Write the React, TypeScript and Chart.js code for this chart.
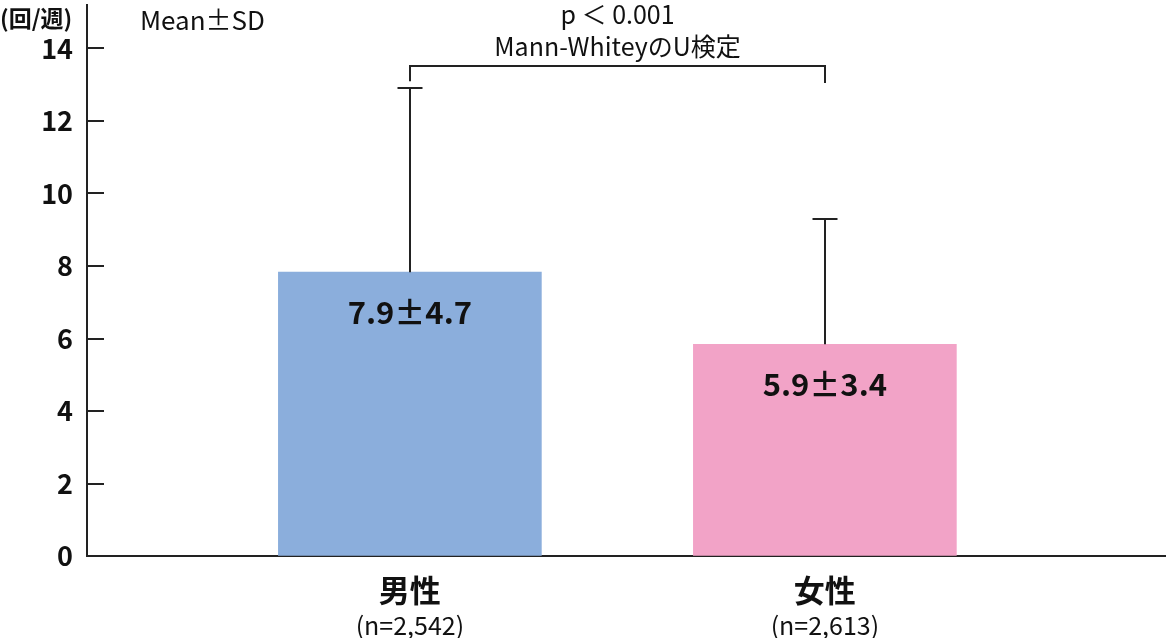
import React, { useEffect, useRef } from 'react';
import { Chart, registerables } from 'chart.js';

Chart.register(...registerables);

const categories = ['男性', '女性'];
const sampleSizes = ['(n=2,542)', '(n=2,613)'];
const xPositions = [1, 2];
const means = [7.83, 5.84];
const sdUpper = [12.9, 9.31];
const barLabels = ['7.9±4.7', '5.9±3.4'];
const barColors = ['#8BAEDC', '#F2A3C7'];
const yUnit = '(回/週)';
const statLabel = 'Mean±SD';
const testLines = ['p ＜ 0.001', 'Mann-WhiteyのU検定'];
const bracketTop = 13.52;
const bracketLegEnds = [13.1, 13.05];

const FONT = '"Noto Sans CJK JP", "Noto Sans", sans-serif';

const overlayPlugin = {
  id: 'overlay',
  afterDatasetsDraw(chart: any) {
    const { ctx, chartArea, scales } = chart;
    const x = scales.x;
    const y = scales.y;
    ctx.save();
    ctx.strokeStyle = '#222';
    ctx.lineWidth = 2;
    y.ticks.forEach((t: any) => {
      const py = Math.round(y.getPixelForValue(t.value));
      ctx.beginPath();
      ctx.moveTo(chartArea.left, py);
      ctx.lineTo(chartArea.left + 17, py);
      ctx.stroke();
    });
    xPositions.forEach((xv, i) => {
      const px = Math.round(x.getPixelForValue(xv));
      const py0 = y.getPixelForValue(means[i]);
      const py1 = Math.round(y.getPixelForValue(sdUpper[i]));
      ctx.beginPath();
      ctx.moveTo(px, py0);
      ctx.lineTo(px, py1);
      ctx.moveTo(px - 12.5, py1);
      ctx.lineTo(px + 12.5, py1);
      ctx.stroke();
    });
    ctx.fillStyle = '#111';
    ctx.textAlign = 'center';
    ctx.textBaseline = 'middle';
    ctx.font = `bold 31px ${FONT}`;
    xPositions.forEach((xv, i) => {
      ctx.fillText(barLabels[i], x.getPixelForValue(xv), y.getPixelForValue(means[i]) + 40);
    });
    xPositions.forEach((xv, i) => {
      const px = x.getPixelForValue(xv);
      ctx.font = `bold 31px ${FONT}`;
      ctx.fillText(categories[i], px, chartArea.bottom + 34);
      ctx.font = `25px ${FONT}`;
      ctx.fillText(sampleSizes[i], px, chartArea.bottom + 69);
    });
    const bx0 = Math.round(x.getPixelForValue(xPositions[0]));
    const bx1 = Math.round(x.getPixelForValue(xPositions[1]));
    const by = Math.round(y.getPixelForValue(bracketTop));
    ctx.beginPath();
    ctx.moveTo(bx0, y.getPixelForValue(bracketLegEnds[0]));
    ctx.lineTo(bx0, by);
    ctx.lineTo(bx1, by);
    ctx.lineTo(bx1, y.getPixelForValue(bracketLegEnds[1]));
    ctx.stroke();
    ctx.font = `25px ${FONT}`;
    ctx.fillText(testLines[0], (bx0 + bx1) / 2, by - 52);
    ctx.fillText(testLines[1], (bx0 + bx1) / 2, by - 20);
    ctx.textAlign = 'left';
    ctx.font = `bold 23px ${FONT}`;
    ctx.fillText(yUnit, 0, 18);
    ctx.font = `26px ${FONT}`;
    ctx.fillText(statLabel, chartArea.left + 53, 20);
    ctx.restore();
  },
};

export default function App() {
  const ref = useRef<HTMLCanvasElement | null>(null);
  useEffect(() => {
    if (!ref.current) return;
    const chart = new Chart(ref.current, {
      type: 'bar',
      data: {
        datasets: [
          {
            data: xPositions.map((xv, i) => ({ x: xv, y: means[i] })),
            backgroundColor: barColors,
            borderWidth: 0,
            barThickness: 263,
          },
        ],
      },
      options: {
        animation: false,
        responsive: true,
        maintainAspectRatio: false,
        layout: { padding: { top: 5, right: 0, left: 0, bottom: 0 } },
        plugins: { legend: { display: false }, tooltip: { enabled: false } },
        scales: {
          x: {
            type: 'linear',
            offset: false,
            min: 0.222,
            max: 2.822,
            ticks: { display: false },
            grid: { drawOnChartArea: false, drawTicks: false, offset: false },
            border: { display: true, color: '#222', width: 2 },
            afterFit: (s: any) => {
              s.height = 82;
              s.paddingLeft = 0;
              s.paddingRight = 0;
            },
          },
          y: {
            min: 0,
            max: 15.2,
            ticks: {
              stepSize: 2,
              includeBounds: false,
              padding: 14,
              color: '#111',
              font: { family: FONT, size: 27, weight: 'bold' },
            },
            grid: { drawOnChartArea: false, drawTicks: false },
            border: { display: true, color: '#222', width: 2 },
            afterFit: (s: any) => {
              s.width = 87;
              s.paddingTop = 0;
              s.paddingBottom = 0;
            },
          },
        },
      } as any,
      plugins: [overlayPlugin],
    });
    return () => chart.destroy();
  }, []);
  return (
    <div style={{ position: 'fixed', left: 0, top: 0, width: 1166, height: 638, background: '#fff' }}>
      <canvas ref={ref} />
    </div>
  );
}
